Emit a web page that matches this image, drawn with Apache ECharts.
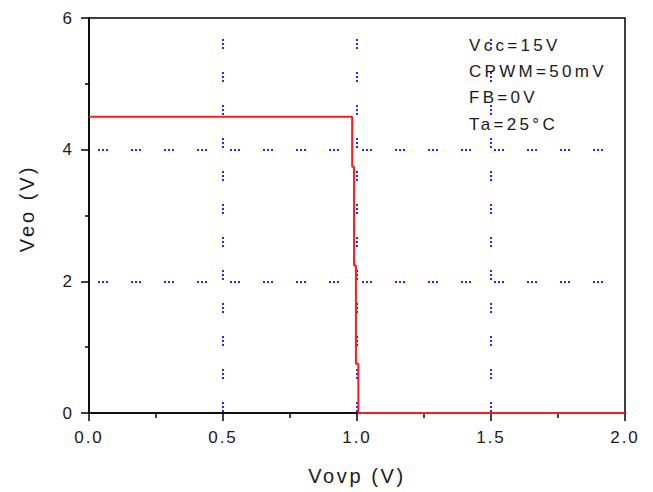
<!DOCTYPE html>
<html>
<head>
<meta charset="utf-8">
<script src="https://cdn.jsdelivr.net/npm/echarts@6/dist/echarts.min.js"></script>
<style>
  html, body { margin: 0; padding: 0; background: #fff; }
  #chart { width: 653px; height: 492px; }
  /* Origin-style wide letter spacing for all chart text */
  #chart text { letter-spacing: 2px; }
</style>
</head>
<body>
<div id="chart"></div>
<script>
// Output voltage Veo versus OVP input Vovp
const vovp = [0, 0.982, 0.982, 0.989, 0.989, 0.996, 0.996, 1.005, 1.005, 2.0];
const veo  = [4.5, 4.5, 3.74, 3.74, 2.24, 2.24, 0.75, 0.75, 0, 0];

// Test conditions
const notes = ['Vcc=15V', 'CPWM=50mV', 'FB=0V', 'Ta=25°C'];

const FONT = '"Liberation Sans", Arial, sans-serif';
const TEXT_COLOR = '#1a1a1a';
const chart = echarts.init(document.getElementById('chart'), null, { renderer: 'svg' });

const pairs = vovp.map((x, i) => [x, veo[i]]);

const dotted = (gapEnd, offset) => ({
  color: '#2626ff', width: 2, type: [2, 2, 2, 2, 2, gapEnd], dashOffset: offset
});

chart.setOption({
  animation: false,
  backgroundColor: '#fff',
  grid: {
    left: 89, top: 18, right: 28, bottom: 79,
    show: true, borderColor: '#000', borderWidth: 1.5
  },
  xAxis: {
    type: 'value', min: 0, max: 2, interval: 0.5,
    name: 'Vovp (V)', nameLocation: 'middle', nameGap: 53,
    nameTextStyle: { fontFamily: FONT, fontSize: 20, color: TEXT_COLOR },
    axisLine: { onZero: false, lineStyle: { color: '#000', width: 1.5 } },
    axisTick: { show: true, inside: false, length: 8, lineStyle: { color: '#000', width: 1.5 } },
    minorTick: { show: true, splitNumber: 2, length: 5, lineStyle: { color: '#000', width: 1.5 } },
    axisLabel: {
      fontFamily: FONT, fontSize: 17, color: TEXT_COLOR, margin: 16,
      formatter: v => v.toFixed(1)
    },
    splitLine: { show: true, showMinLine: false, showMaxLine: false, lineStyle: dotted(23, 12) }
  },
  yAxis: {
    type: 'value', min: 0, max: 6, interval: 2,
    name: 'Veo (V)', nameLocation: 'middle', nameGap: 52, nameRotate: 90,
    nameTextStyle: { fontFamily: FONT, fontSize: 20, color: TEXT_COLOR, padding: [0, 0, 0, 14] },
    axisLine: { onZero: false, lineStyle: { color: '#000', width: 1.5 } },
    axisTick: { show: true, inside: false, length: 8, lineStyle: { color: '#000', width: 1.5 } },
    minorTick: { show: true, splitNumber: 2, length: 4, lineStyle: { color: '#000', width: 1.5 } },
    axisLabel: { fontFamily: FONT, fontSize: 17, color: TEXT_COLOR, margin: 15 },
    splitLine: { show: true, showMinLine: false, showMaxLine: false, lineStyle: dotted(23, 24) }
  },
  series: [{
    type: 'line',
    data: pairs,
    showSymbol: false,
    symbol: 'none',
    lineStyle: { color: '#ff1a1a', width: 2 },
    z: 5
  }],
  graphic: notes.map((t, i) => ({
    type: 'text',
    x: 469,
    y: 45.5 + i * 26.2,
    style: { text: t, font: '17px ' + FONT, fill: TEXT_COLOR, verticalAlign: 'middle' }
  }))
});

// Wider spacing for the axis titles and the condition notes
const wide = { 'Vovp (V)': '2.6px', 'Veo (V)': '3px' };
notes.forEach(n => { wide[n] = '3.3px'; });
document.querySelectorAll('#chart text').forEach(t => {
  const s = wide[t.textContent];
  if (s) t.style.letterSpacing = s;
});
</script>
</body>
</html>
